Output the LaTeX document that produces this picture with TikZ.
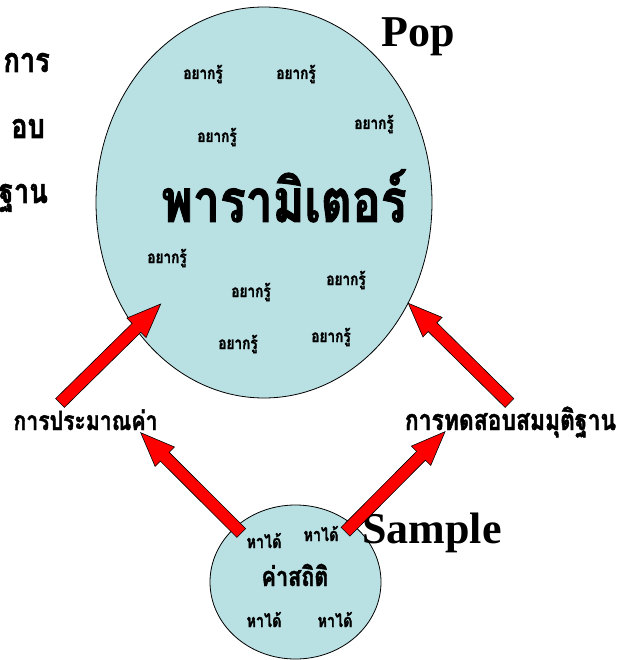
\documentclass[tikz,border=0pt]{standalone}
\usepackage{fontspec}
\setmainfont{Liberation Serif}
\newfontfamily\thai[Script=Thai,FakeStretch=0.8,FakeBold=1.5]{Loma}
\usetikzlibrary{calc,shapes.geometric}
\definecolor{cfill}{RGB}{185,224,227}
\tikzset{
  circ/.style={ellipse,draw=black,line width=0.8pt,fill=cfill,inner sep=0pt},
  redarr/.style={draw=black,line width=0.6pt,fill=red,line join=miter},
  small/.style={font=\thai\bfseries\fontsize{17}{17}\selectfont,anchor=base,inner sep=0pt},
  smallb/.style={font=\thai\bfseries\fontsize{18}{18}\selectfont,anchor=base,inner sep=0pt},
  mid/.style={font=\thai\bfseries\fontsize{28}{28}\selectfont,anchor=base,inner sep=0pt},
  side/.style={font=\thai\bfseries\fontsize{34}{34}\selectfont,anchor=base east,inner sep=0pt},
  eng/.style={font=\bfseries\fontsize{44}{44}\selectfont,anchor=base,inner sep=0pt}
}
\newcommand\redarrow[2]{%
  \coordinate (hb) at ($(#2)!34pt!(#1)$);
  \draw[redarr] ($(#1)!6.2pt!90:(#2)$) -- ($(hb)!6.2pt!90:(#2)$) -- ($(hb)!13.7pt!90:(#2)$) -- (#2)
    -- ($(hb)!13.7pt!-90:(#2)$) -- ($(hb)!6.2pt!-90:(#2)$) -- ($(#1)!6.2pt!-90:(#2)$) -- cycle;}
\begin{document}
\begin{tikzpicture}[x=1pt,y=-1pt]
\useasboundingbox (0,0) rectangle (617,660);
% left text (partly outside the slide in the reference)
\node[side] (l1) at (50,72) {การ};
\node[side] (l2) at (45,138) {อบ};
\node[side] (l3) at (48,203) {ฐาน};
% circles
\node[circ,minimum width=336pt,minimum height=391pt] (pop) at (264,202.5) {};
\node[circ,minimum width=171pt,minimum height=154pt] (samp) at (295.5,582) {};
% big text
\node[font=\thai\bfseries\fontsize{60}{60}\selectfont,anchor=base,inner sep=0pt] (param) at (284,222) {พารามิเตอร์};
\node[small] (k1) at (203,79) {อยากรู้};
\node[small] (k2) at (296,79) {อยากรู้};
\node[small] (k3) at (217,142) {อยากรู้};
\node[small] (k4) at (374,129) {อยากรู้};
\node[small] (k5) at (167,263) {อยากรู้};
\node[small] (k6) at (251,297) {อยากรู้};
\node[small] (k7) at (346,285) {อยากรู้};
\node[small] (k8) at (238,349) {อยากรู้};
\node[small] (k9) at (331,342) {อยากรู้};
\node[eng] (poplbl) at (418,47) {Pop};
\node[eng] (samplbl) at (432,543) {Sample};
% sample text
\node[mid,font=\thai\bfseries\fontsize{27}{27}\selectfont] (stat) at (295,586) {ค่าสถิติ};
\node[smallb] (h1) at (264,548) {หาได้};
\node[smallb] (h2) at (321,541) {หาได้};
\node[smallb] (h3) at (264,627) {หาได้};
\node[smallb] (h4) at (335,627) {หาได้};
% labels
\node[mid,font=\thai\bfseries\fontsize{26.5}{26.5}\selectfont] (est) at (85.5,430) {การประมาณค่า};
\node[mid,font=\thai\bfseries\fontsize{28.6}{28.6}\selectfont] (test) at (510.5,430) {การทดสอบสมมุติฐาน};
% arrows
\coordinate (a1t) at (60,403); \coordinate (a1h) at (160.7,304);
\coordinate (a2t) at (509.5,403); \coordinate (a2h) at (408.3,303.3);
\coordinate (a3t) at (241.3,533); \coordinate (a3h) at (140.7,432.7);
\coordinate (a4t) at (345.5,531.7); \coordinate (a4h) at (445,431.7);
\redarrow{a1t}{a1h}
\redarrow{a2t}{a2h}
\redarrow{a3t}{a3h}
\redarrow{a4t}{a4h}
\end{tikzpicture}
\end{document}
